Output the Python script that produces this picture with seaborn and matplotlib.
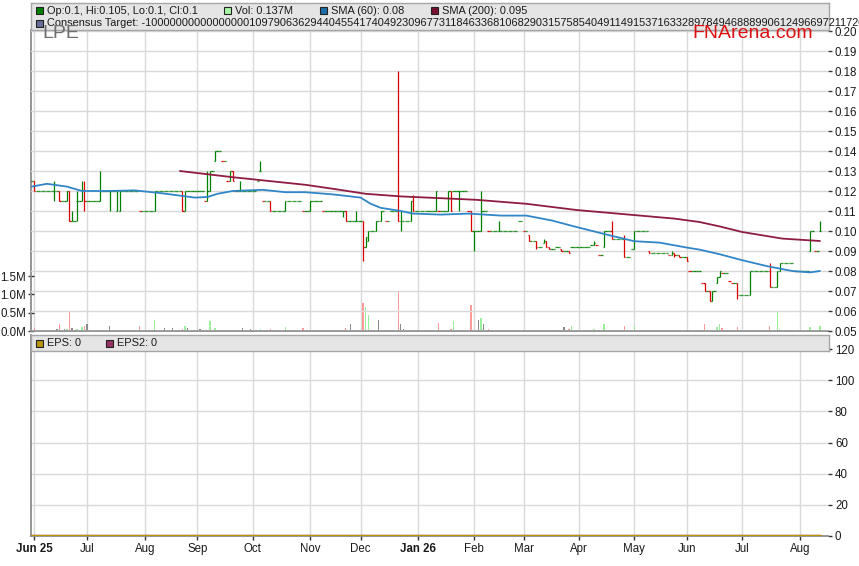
import numpy as np
import pandas as pd
import matplotlib
matplotlib.use("Agg")
import matplotlib.pyplot as plt
import seaborn as sns
from matplotlib.patches import Rectangle

# ---------------- data ----------------
ticker = "LPE"
start_date = "2025-05-30"          # first weekday shown (index -1)

# daily closes, one per weekday, index -1 .. 313
closes = [
    0.125, 0.12, 0.12, 0.12, 0.12, 0.12, 0.12, 0.12, 0.12, 0.12,
    0.12, 0.115, 0.115, 0.115, 0.12, 0.105, 0.105, 0.105, 0.115, 0.115,
    0.12, 0.115, 0.115, 0.115, 0.115, 0.115, 0.115, 0.12, 0.12, 0.12,
    0.12, 0.12, 0.12, 0.12, 0.12, 0.12, 0.12, 0.12, 0.12, 0.12,
    0.12, 0.12, 0.12, 0.11, 0.11, 0.11, 0.11, 0.11, 0.11, 0.12,
    0.12, 0.12, 0.12, 0.12, 0.12, 0.12, 0.12, 0.12, 0.12, 0.12,
    0.11, 0.12, 0.12, 0.12, 0.12, 0.12, 0.12, 0.12, 0.12, 0.115,
    0.12, 0.13, 0.13, 0.14, 0.14, 0.14, 0.135, 0.135, 0.125, 0.13,
    0.125, 0.12, 0.12, 0.12, 0.12, 0.12, 0.12, 0.12, 0.12, 0.12,
    0.125, 0.13, 0.115, 0.115, 0.115, 0.11, 0.11, 0.11, 0.11, 0.11,
    0.11, 0.115, 0.115, 0.115, 0.115, 0.115, 0.115, 0.115, 0.11, 0.11,
    0.11, 0.115, 0.115, 0.115, 0.115, 0.115, 0.11, 0.11, 0.11, 0.11,
    0.11, 0.11, 0.11, 0.11, 0.11, 0.105, 0.105, 0.105, 0.105, 0.105,
    0.105, 0.105, 0.092, 0.097, 0.10, 0.10, 0.10, 0.105, 0.105, 0.11,
    0.11, 0.105, 0.105, 0.11, 0.11, 0.11, 0.105, 0.105, 0.105, 0.105,
    0.105, 0.115, 0.11, 0.11, 0.11, 0.11, 0.11, 0.11, 0.11, 0.11,
    0.11, 0.12, 0.11, 0.11, 0.11, 0.11, 0.12, 0.11, 0.12, 0.12,
    0.12, 0.12, 0.12, 0.12, 0.11, 0.10, 0.10, 0.10, 0.10, 0.11,
    0.11, 0.11, 0.10, 0.10, 0.10, 0.10, 0.10, 0.10, 0.10, 0.10,
    0.10, 0.10, 0.10, 0.10, 0.105, 0.105, 0.10, 0.10, 0.095, 0.095,
    0.095, 0.092, 0.092, 0.092, 0.095, 0.092, 0.091, 0.091, 0.091, 0.092,
    0.092, 0.09, 0.09, 0.09, 0.089, 0.092, 0.092, 0.092, 0.092, 0.092,
    0.092, 0.092, 0.092, 0.093, 0.094, 0.093, 0.088, 0.088, 0.10, 0.10,
    0.10, 0.096, 0.096, 0.096, 0.096, 0.096, 0.087, 0.087, 0.087, 0.091,
    0.10, 0.10, 0.10, 0.10, 0.10, 0.10, 0.089, 0.089, 0.089, 0.089,
    0.089, 0.089, 0.089, 0.089, 0.088, 0.089, 0.088, 0.088, 0.087, 0.087,
    0.087, 0.085, 0.08, 0.08, 0.08, 0.08, 0.08, 0.074, 0.07, 0.07,
    0.065, 0.07, 0.07, 0.077, 0.08, 0.079, 0.079, 0.079, 0.075, 0.074,
    0.074, 0.068, 0.068, 0.068, 0.068, 0.068, 0.08, 0.08, 0.08, 0.08,
    0.08, 0.08, 0.08, 0.08, 0.072, 0.072, 0.072, 0.08, 0.084, 0.084,
    0.084, 0.084, 0.084, 0.084, 0.08, 0.08, 0.08, 0.08, 0.08, 0.08,
    0.10, 0.10, 0.09, 0.09, 0.10,
]

# days that traded with a range (weekday index, open, high, low)
bar_idx = [0, 8, 10, 13, 14, 15, 17, 19, 20, 26,
           30, 33, 34, 48, 59, 60, 69, 70, 72, 78,
           79, 82, 90, 94, 100, 110, 123, 124, 128, 131,
           132, 133, 136, 138, 145, 146, 150, 151, 160, 165,
           166, 169, 174, 175, 178, 185, 197, 200, 203, 204,
           205, 210, 213, 223, 227, 230, 235, 239, 245, 254,
           255, 257, 260, 267, 269, 270, 272, 273, 280, 285,
           293, 296, 297, 309, 313]
bar_open = [0.125, 0.12, 0.12, 0.115, 0.12, 0.105, 0.115, 0.115, 0.12, 0.115,
            0.12, 0.11, 0.11, 0.11, 0.12, 0.11, 0.115, 0.12, 0.135, 0.125,
            0.13, 0.12, 0.13, 0.115, 0.11, 0.11, 0.11, 0.11, 0.105, 0.105,
            0.092, 0.095, 0.10, 0.105, 0.11, 0.105, 0.105, 0.115, 0.11, 0.11,
            0.12, 0.12, 0.11, 0.10, 0.10, 0.10, 0.098, 0.095, 0.094, 0.095,
            0.092, 0.091, 0.09, 0.093, 0.092, 0.10, 0.096, 0.091, 0.09, 0.088,
            0.089, 0.088, 0.087, 0.074, 0.07, 0.065, 0.074, 0.077, 0.074, 0.068,
            0.08, 0.072, 0.08, 0.09, 0.10]
bar_high = [0.125, 0.125, 0.12, 0.12, 0.12, 0.11, 0.12, 0.125, 0.125, 0.13,
            0.12, 0.12, 0.12, 0.12, 0.12, 0.12, 0.13, 0.13, 0.14, 0.13,
            0.13, 0.125, 0.135, 0.115, 0.115, 0.115, 0.11, 0.11, 0.11, 0.105,
            0.097, 0.10, 0.105, 0.11, 0.18, 0.11, 0.115, 0.118, 0.12, 0.12,
            0.12, 0.12, 0.11, 0.10, 0.12, 0.105, 0.098, 0.095, 0.096, 0.095,
            0.092, 0.091, 0.09, 0.095, 0.10, 0.105, 0.098, 0.10, 0.09, 0.09,
            0.089, 0.088, 0.087, 0.074, 0.07, 0.07, 0.077, 0.08, 0.074, 0.08,
            0.084, 0.08, 0.084, 0.10, 0.105]
bar_low = [0.12, 0.115, 0.115, 0.115, 0.105, 0.105, 0.105, 0.115, 0.11, 0.115,
           0.11, 0.11, 0.11, 0.11, 0.11, 0.11, 0.115, 0.12, 0.135, 0.125,
           0.125, 0.12, 0.13, 0.11, 0.11, 0.11, 0.107, 0.105, 0.105, 0.085,
           0.092, 0.095, 0.10, 0.105, 0.105, 0.10, 0.105, 0.11, 0.11, 0.11,
           0.11, 0.11, 0.10, 0.09, 0.10, 0.10, 0.095, 0.091, 0.094, 0.092,
           0.091, 0.09, 0.089, 0.093, 0.092, 0.096, 0.087, 0.091, 0.089, 0.088,
           0.087, 0.087, 0.085, 0.07, 0.065, 0.065, 0.074, 0.077, 0.066, 0.068,
           0.072, 0.072, 0.08, 0.09, 0.10]

# volume (millions of shares) on the days it is visible
vol_idx = [0, 8, 9, 10, 12, 13, 14, 15, 17, 19,
           20, 21, 30, 35, 38, 42, 43, 48, 52, 55,
           59, 60, 61, 66, 67, 68, 70, 72, 80, 83,
           86, 90, 91, 94, 100, 107, 115, 124, 126, 128,
           131, 132, 133, 136, 137, 140, 141, 143, 145, 146,
           147, 151, 153, 161, 165, 166, 167, 174, 175, 177,
           178, 179, 180, 181, 194, 195, 200, 204, 207, 210,
           211, 213, 214, 223, 225, 227, 228, 230, 235, 239,
           260, 261, 267, 270, 272, 273, 274, 276, 280, 284,
           293, 296, 297, 309, 310, 313]
vol_m = [0.09, 0.03, 0.05, 0.18, 0.05, 0.06, 0.55, 0.07, 0.06, 0.11,
         0.14, 0.18, 0.14, 0.01, 0.02, 0.15, 0.01, 0.29, 0.09, 0.07,
         0.05, 0.14, 0.07, 0.05, 0.02, 0.01, 0.26, 0.07, 0.02, 0.09,
         0.05, 0.06, 0.01, 0.06, 0.10, 0.07, 0.03, 0.07, 0.18, 0.02,
         0.76, 0.66, 0.43, 0.03, 0.29, 0.02, 0.03, 0.03, 1.07, 0.18,
         0.05, 0.02, 0.01, 0.21, 0.03, 0.06, 0.27, 0.70, 0.02, 0.29,
         0.35, 0.18, 0.02, 0.05, 0.01, 0.03, 0.03, 0.03, 0.03, 0.02,
         0.11, 0.06, 0.15, 0.06, 0.03, 0.18, 0.01, 0.03, 0.15, 0.15,
         0.02, 0.01, 0.18, 0.02, 0.11, 0.18, 0.07, 0.03, 0.11, 0.01,
         0.15, 0.53, 0.05, 0.11, 0.03, 0.137]

# moving averages (weekday index, value)
sma60_idx = [-1, 5, 13, 19, 29, 40, 50, 64, 69, 73, 79, 91, 100, 108, 119,
             130, 134, 138, 146, 151, 162, 173, 186, 196, 206, 216, 229,
             239, 249, 260, 265, 273, 282, 292, 302, 309, 313]
sma60_val = [0.1222, 0.1236, 0.1222, 0.1200, 0.1200, 0.1203, 0.1190, 0.1167,
             0.1170, 0.1186, 0.1200, 0.1206, 0.1194, 0.1194, 0.1183, 0.1167,
             0.1136, 0.1116, 0.1100, 0.1087, 0.1082, 0.1087, 0.1077, 0.1077,
             0.1053, 0.1020, 0.0979, 0.0949, 0.0942, 0.0917, 0.0907, 0.0884,
             0.0854, 0.0824, 0.0800, 0.0793, 0.0800]
sma200_idx = [58, 79, 108, 119, 132, 146, 162, 176, 196, 216, 255, 265, 273,
              282, 298, 313]
sma200_val = [0.1300, 0.1269, 0.1231, 0.1211, 0.1186, 0.1173, 0.1164, 0.1156,
              0.1136, 0.1105, 0.1062, 0.1045, 0.1023, 0.0995, 0.0962, 0.0950]

eps_value = 0
eps2_value = 0
consensus_text = ("-1000000000000000010979063629440455417404923096773118463368"
                  "106829031575854049114915371633289784946888990612496697211720")

price_ticks = [0.05, 0.06, 0.07, 0.08, 0.09, 0.10, 0.11, 0.12, 0.13, 0.14,
               0.15, 0.16, 0.17, 0.18, 0.19, 0.20]
vol_ticks = [0.0, 0.5, 1.0, 1.5]
eps_ticks = [0, 20, 40, 60, 80, 100, 120]

# ---------------- derived series ----------------
n = len(closes)
xs = np.arange(n) - 1
dates = pd.bdate_range(start_date, periods=n)
c = np.array(closes, float)
o = c.copy(); h = c.copy(); l = c.copy()
for k, i in enumerate(bar_idx):
    o[i + 1] = bar_open[k]; h[i + 1] = bar_high[k]; l[i + 1] = bar_low[k]
prev = np.r_[o[0], c[:-1]]
GREEN, RED = "#008000", "#dd0000"
pcol = [RED if c[k] < prev[k] - 1e-9 else GREEN for k in range(n)]
vols = np.zeros(n)
for i, v in zip(vol_idx, vol_m):
    vols[i + 1] = v
vcol = []
for k in range(n):
    if c[k] < prev[k] - 1e-9:
        vcol.append("#ff9a9a")
    elif c[k] > prev[k] + 1e-9:
        vcol.append("#9af09a")
    else:
        vcol.append("#8a8a8a")

# month ticks
month_pos, month_lab = [], []
for k in range(1, n):
    if dates[k].month != dates[k - 1].month:
        d = dates[k]
        lab = d.strftime("%b")
        if not month_pos or d.month == 1:
            lab = f"{lab} {d.strftime('%y')}"
        month_pos.append(xs[k]); month_lab.append(lab)

# ---------------- figure ----------------
sns.set_theme(style="white")
plt.rcParams['font.family'] = ['Liberation Sans', 'DejaVu Sans']
W, H = 859, 566
fig = plt.figure(figsize=(W / 100, H / 100), dpi=100)
fig.patch.set_facecolor("white")

def rect(lft, top, rgt, bot):
    return [lft / W, 1 - bot / H, (rgt - lft) / W, (bot - top) / H]

GRID = "#d9d9d9"
TXT = "#1a1a1a"
FRAME = "#8c8c8c"
XL = (-1.31, 316.2)

ax_v = fig.add_axes(rect(31, 30, 828, 331))
ax_p = ax_v.twinx()
ax_e = fig.add_axes(rect(31, 335, 828, 536))
ax_h = fig.add_axes(rect(31, 3, 829, 30))
ax_eh = fig.add_axes(rect(31, 335, 829, 351))

# volume (left axis)
ax_v.set_xlim(*XL)
ax_v.set_ylim(0, 301 / 36.6)
ax_v.bar(xs, vols, width=0.5, color=vcol, linewidth=0, zorder=2)
ax_v.set_xticks(month_pos)
ax_v.set_xticklabels([])
ax_v.tick_params(axis="x", length=0)
ax_v.grid(axis="x", color=GRID, lw=1)
ax_v.set_axisbelow(True)
ax_v.set_yticks(vol_ticks)
ax_v.set_yticklabels([f"{v:.1f}M" for v in vol_ticks])
ax_v.tick_params(axis="y", left=True, direction="inout", length=5, width=1,
                 color="#333333", labelsize=8.3, labelcolor=TXT, pad=1)
for s in ["top", "right"]:
    ax_v.spines[s].set_visible(False)
for s in ["left", "bottom"]:
    ax_v.spines[s].set_color(FRAME); ax_v.spines[s].set_linewidth(1.3)

# price (right axis)
ax_p.set_xlim(*XL)
ax_p.set_ylim(0.05, 0.2005)
ax_p.set_yticks(price_ticks)
ax_p.set_yticklabels([f"{v:.2f}" for v in price_ticks])
ax_p.tick_params(axis="y", right=True, direction="out", length=3, width=1,
                 color="#333333", labelsize=8.3, labelcolor=TXT, pad=2)
ax_p.grid(axis="y", color=GRID, lw=1)
ax_p.set_axisbelow(True)
for s in ax_p.spines.values():
    s.set_visible(False)

lw = 0.9
ax_p.vlines(xs, l, h, colors=pcol, lw=lw, zorder=3)
ax_p.hlines(o, xs - 0.45, xs, colors=pcol, lw=lw, zorder=3)
ax_p.hlines(c, xs, xs + 0.45, colors=pcol, lw=lw, zorder=3)

sns.lineplot(x=sma60_idx, y=sma60_val, ax=ax_p, color="#3186c8", linewidth=1.3,
             legend=False, zorder=4)
sns.lineplot(x=sma200_idx, y=sma200_val, ax=ax_p, color="#8e1d40", linewidth=1.3,
             legend=False, zorder=4)
ax_p.set_xlabel(""); ax_p.set_ylabel(""); ax_v.set_ylabel("")

# EPS panel
ax_e.set_xlim(*XL)
ax_e.set_ylim(0, 129)
eps_df = pd.DataFrame({"x": xs, "eps": np.full(n, eps_value, float),
                       "eps2": np.full(n, eps2_value, float)})
sns.lineplot(data=eps_df, x="x", y="eps2", ax=ax_e, color="#993366",
             linewidth=2.4, legend=False, zorder=3)
sns.lineplot(data=eps_df, x="x", y="eps", ax=ax_e, color="#b8960c",
             linewidth=2.4, legend=False, zorder=4)
ax_e.set_xlabel(""); ax_e.set_ylabel("")
ax_e.yaxis.tick_right()
ax_e.set_yticks(eps_ticks)
ax_e.set_yticklabels([str(v) for v in eps_ticks])
ax_e.tick_params(axis="y", right=True, left=False, direction="out", length=3,
                 width=1, color="#333333", labelsize=8.3, labelcolor=TXT, pad=2)
ax_e.set_xticks(month_pos)
ax_e.set_xticklabels(month_lab)
ax_e.tick_params(axis="x", bottom=True, direction="out", length=3, width=1,
                 color="#333333", labelsize=8.3, labelcolor=TXT, pad=2)
for lab in ax_e.get_xticklabels():
    if " " in lab.get_text():
        lab.set_fontweight("bold")
ax_e.grid(axis="both", color=GRID, lw=1)
ax_e.set_axisbelow(True)
for s in ["top", "right"]:
    ax_e.spines[s].set_visible(False)
for s in ["left", "bottom"]:
    ax_e.spines[s].set_color(FRAME); ax_e.spines[s].set_linewidth(1.3)

# header bands
def band(ax, top, bot):
    ax.set_xlim(31, 829); ax.set_ylim(bot, top)
    ax.set_xticks([]); ax.set_yticks([])
    ax.set_facecolor("#e5e5e5")
    for s in ax.spines.values():
        s.set_color("#a6a6a6"); s.set_linewidth(1)

def item(ax, xsq, y, color, text, xt=None):
    ax.add_patch(Rectangle((xsq, y - 3.5), 7, 7, facecolor=color,
                           edgecolor="#222222", lw=0.8, clip_on=False))
    ax.text(xsq + 11 if xt is None else xt, y, text, fontsize=7.9, color=TXT,
            va="center", ha="left", clip_on=False)

band(ax_h, 3, 30)
last = -1
item(ax_h, 36, 10.5, GREEN,
     f"Op:{o[last]:g}, Hi:{h[last]:g}, Lo:{l[last]:g}, Cl:{c[last]:g}")
item(ax_h, 224, 10.5, "#a6f5a6", f"Vol: {vols[last]:.3f}M")
item(ax_h, 320, 10.5, "#1d6fa8", f"SMA (60): {round(sma60_val[-1], 3):g}")
item(ax_h, 431, 10.5, "#7a1030", f"SMA (200): {round(sma200_val[-1], 3):g}")
item(ax_h, 36, 23, "#6b6b9c", f"Consensus Target: {consensus_text}")

band(ax_eh, 335, 351)
item(ax_eh, 36, 343.5, "#b8960c", f"EPS: {eps_value}")
item(ax_eh, 106, 343.5, "#993366", f"EPS2: {eps2_value}")

fig.text(42 / W, 1 - 34 / H, ticker, fontsize=14, color="#6e6e6e",
         ha="left", va="center", zorder=10)
fig.text(692 / W, 1 - 34 / H, "FNArena.com", fontsize=14, color="#dd1111",
         ha="left", va="center", zorder=10)

fig.savefig("out.png", dpi=100, facecolor="white")
